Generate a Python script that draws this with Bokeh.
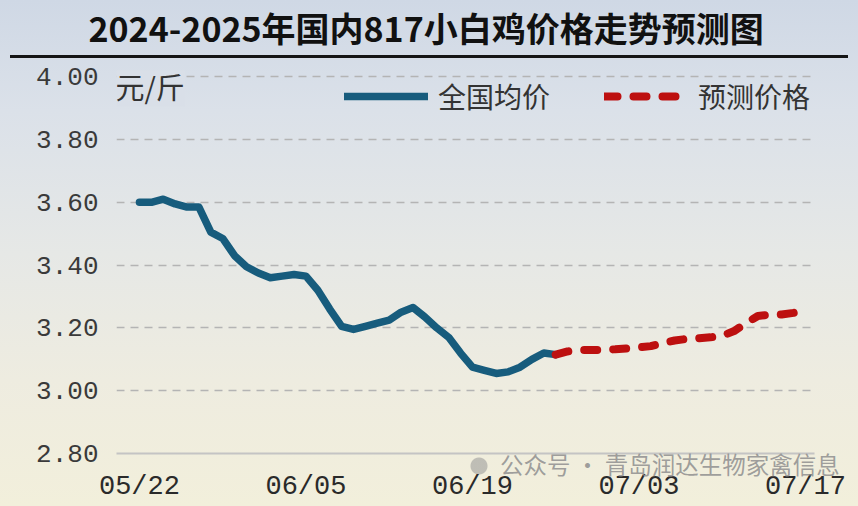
import pandas as pd
from bokeh.plotting import figure
from bokeh.models import (FixedTicker, NumeralTickFormatter, DatetimeTickFormatter, Label, Title,
                          Legend, LegendItem, Range1d, ColumnDataSource, DatetimeAxis)
from bokeh.embed import file_html
from bokeh.resources import INLINE

# ---------------- data ----------------
title_text = "2024-2025年国内817小白鸡价格走势预测图"
unit_text = "元/斤"
watermark_text = "公众号 · 青岛润达生物家禽信息"
series_names = ["全国均价", "预测价格"]

actual_start, actual_end = "2025-05-22", "2025-06-26"
actual_price = [3.600, 3.600, 3.610, 3.595, 3.585, 3.585, 3.505, 3.485, 3.430, 3.395,
                3.375, 3.360, 3.365, 3.370, 3.365, 3.320, 3.260, 3.205, 3.195, 3.205,
                3.215, 3.225, 3.250, 3.265, 3.235, 3.200, 3.170, 3.120, 3.075, 3.065,
                3.055, 3.060, 3.075, 3.100, 3.120, 3.115]

forecast_start, forecast_end = "2025-06-26", "2025-07-17"
forecast_price = [3.115, 3.125, 3.130, 3.130, 3.130, 3.132, 3.135, 3.138, 3.142, 3.152,
                  3.160, 3.165, 3.167, 3.170, 3.175, 3.190, 3.215, 3.238, 3.242, 3.243,
                  3.248, 3.258]

x_tick_dates = ["2025-05-22", "2025-06-05", "2025-06-19", "2025-07-03", "2025-07-17"]
y_ticks = [2.80, 3.00, 3.20, 3.40, 3.60, 3.80, 4.00]

# ---------------- build ----------------
actual_dates = pd.date_range(actual_start, actual_end)
forecast_dates = pd.date_range(forecast_start, forecast_end)
src_a = ColumnDataSource(dict(x=actual_dates, y=actual_price))
src_f = ColumnDataSource(dict(x=forecast_dates, y=forecast_price))

day = pd.Timedelta(days=1)
t0 = pd.Timestamp(x_tick_dates[0])
x0 = t0 - 1.93 * day
x1 = pd.Timestamp(x_tick_dates[-1]) + 0.76 * day

BLUE = "#175c7d"
RED = "#bd1010"

bg = ("linear-gradient(#151515, #151515) 10px 55px / 838px 3px no-repeat, "
      "radial-gradient(circle at 479px 466px, rgba(150,150,150,0.55) 0 8px, rgba(150,150,150,0) 9px) no-repeat, "
      "linear-gradient(180deg, #cfd8e5 0%, #dbe1e9 22%, #e6e8e6 50%, #eeece0 75%, #f2efdb 100%)")

p = figure(width=858, height=506, x_axis_type="datetime",
           x_range=Range1d(x0, x1), y_range=Range1d(2.8, 4.02),
           output_backend="svg", toolbar_location=None,
           min_border_left=116, min_border_right=44, min_border_top=70, min_border_bottom=53,
           background_fill_alpha=0, border_fill_alpha=0, outline_line_color=None,
           styles={"background": bg})

xa = p.below[0]  # the main date axis
ms = [pd.Timestamp(d).value // 10**6 for d in x_tick_dates]

# spacer (invisible one-tick axis nearest the frame), then the real title above it
sp_tick = float(ms[0])
spacer = DatetimeAxis(ticker=FixedTicker(ticks=[sp_tick]), axis_line_color=None,
                      major_tick_line_color=None, minor_tick_line_color=None,
                      major_tick_out=19, major_tick_in=0, minor_tick_out=0,
                      major_label_standoff=0, major_label_overrides={sp_tick: ""},
                      major_label_text_font_size="1px", major_label_text_alpha=0)
p.add_layout(spacer, "above")
p.add_layout(Title(text=title_text, text_font="Noto Sans CJK SC", text_font_style="bold",
                   text_font_size="34px", text_color="#111111", align="left", offset=-28,
                   standoff=0), "above")

# grid
p.xgrid.visible = False
p.ygrid.ticker = FixedTicker(ticks=y_ticks)
p.ygrid.grid_line_color = "#b4b4b4"
p.ygrid.grid_line_width = 1.5
p.ygrid.grid_line_dash = "8 6"

# y axis
p.yaxis.ticker = FixedTicker(ticks=y_ticks)
p.yaxis.formatter = NumeralTickFormatter(format="0.00")
p.yaxis.axis_line_color = None
p.yaxis.major_tick_line_color = None
p.yaxis.minor_tick_line_color = None
p.yaxis.major_label_standoff = 12
p.yaxis.major_label_text_font = "Liberation Mono"
p.yaxis.major_label_text_font_size = "26px"
p.yaxis.major_label_text_color = "#3a3a3a"

# x axis
fmt = "%m/%d"
xa.ticker = FixedTicker(ticks=ms)
xa.formatter = DatetimeTickFormatter(milliseconds=fmt, seconds=fmt, minsec=fmt, minutes=fmt,
                                     hourmin=fmt, hours=fmt, days=fmt, months=fmt, years=fmt)
xa.axis_line_color = "#c4c4c4"
xa.axis_line_width = 2
xa.major_tick_line_color = None
xa.minor_tick_line_color = None
xa.major_label_standoff = 12
xa.major_label_text_font = "Liberation Mono"
xa.major_label_text_font_size = "27px"
xa.major_label_text_color = "#2a2a2a"

# watermark: single tick label of a secondary axis, lifted into the tick-label band
wm_ms = float((t0 + 44.6 * day).value // 10**6)
wm_axis = DatetimeAxis(ticker=FixedTicker(ticks=[wm_ms]), axis_line_color=None,
                       major_tick_line_color=None, minor_tick_line_color=None,
                       major_label_overrides={wm_ms: watermark_text},
                       major_label_standoff=-64,
                       major_label_text_font="Noto Sans CJK SC", major_label_text_font_size="23.5px",
                       major_label_text_color="#8f8f8f", major_label_text_alpha=0.85)
p.add_layout(wm_axis, "below")

# lines
r_a = p.line("x", "y", source=src_a, line_color=BLUE, line_width=7.5, line_join="round", line_cap="round")
r_f = p.line("x", "y", source=src_f, line_color=RED, line_width=8, line_dash="13 16", line_cap="round",
             line_join="round")

legend = Legend(items=[LegendItem(label=series_names[0], renderers=[r_a]),
                       LegendItem(label=series_names[1], renderers=[r_f])],
                orientation="horizontal", location=(228, 337),
                glyph_width=84, glyph_height=30, label_height=30, label_standoff=10, spacing=54,
                padding=0, margin=0, border_line_color=None, background_fill_alpha=0,
                label_text_font="Noto Sans CJK SC", label_text_font_size="28px",
                label_text_color="#333333")
p.add_layout(legend)

# unit label (masks the top grid line behind it)
p.add_layout(Label(x=-1, y=368, x_units="screen", y_units="screen", text=unit_text,
                   text_font="Noto Sans CJK SC", text_font_size="29px", text_color="#333333",
                   text_baseline="middle", background_fill_color="#d9dfe8", background_fill_alpha=1))

open("out.html", "w").write(file_html(p, INLINE))
